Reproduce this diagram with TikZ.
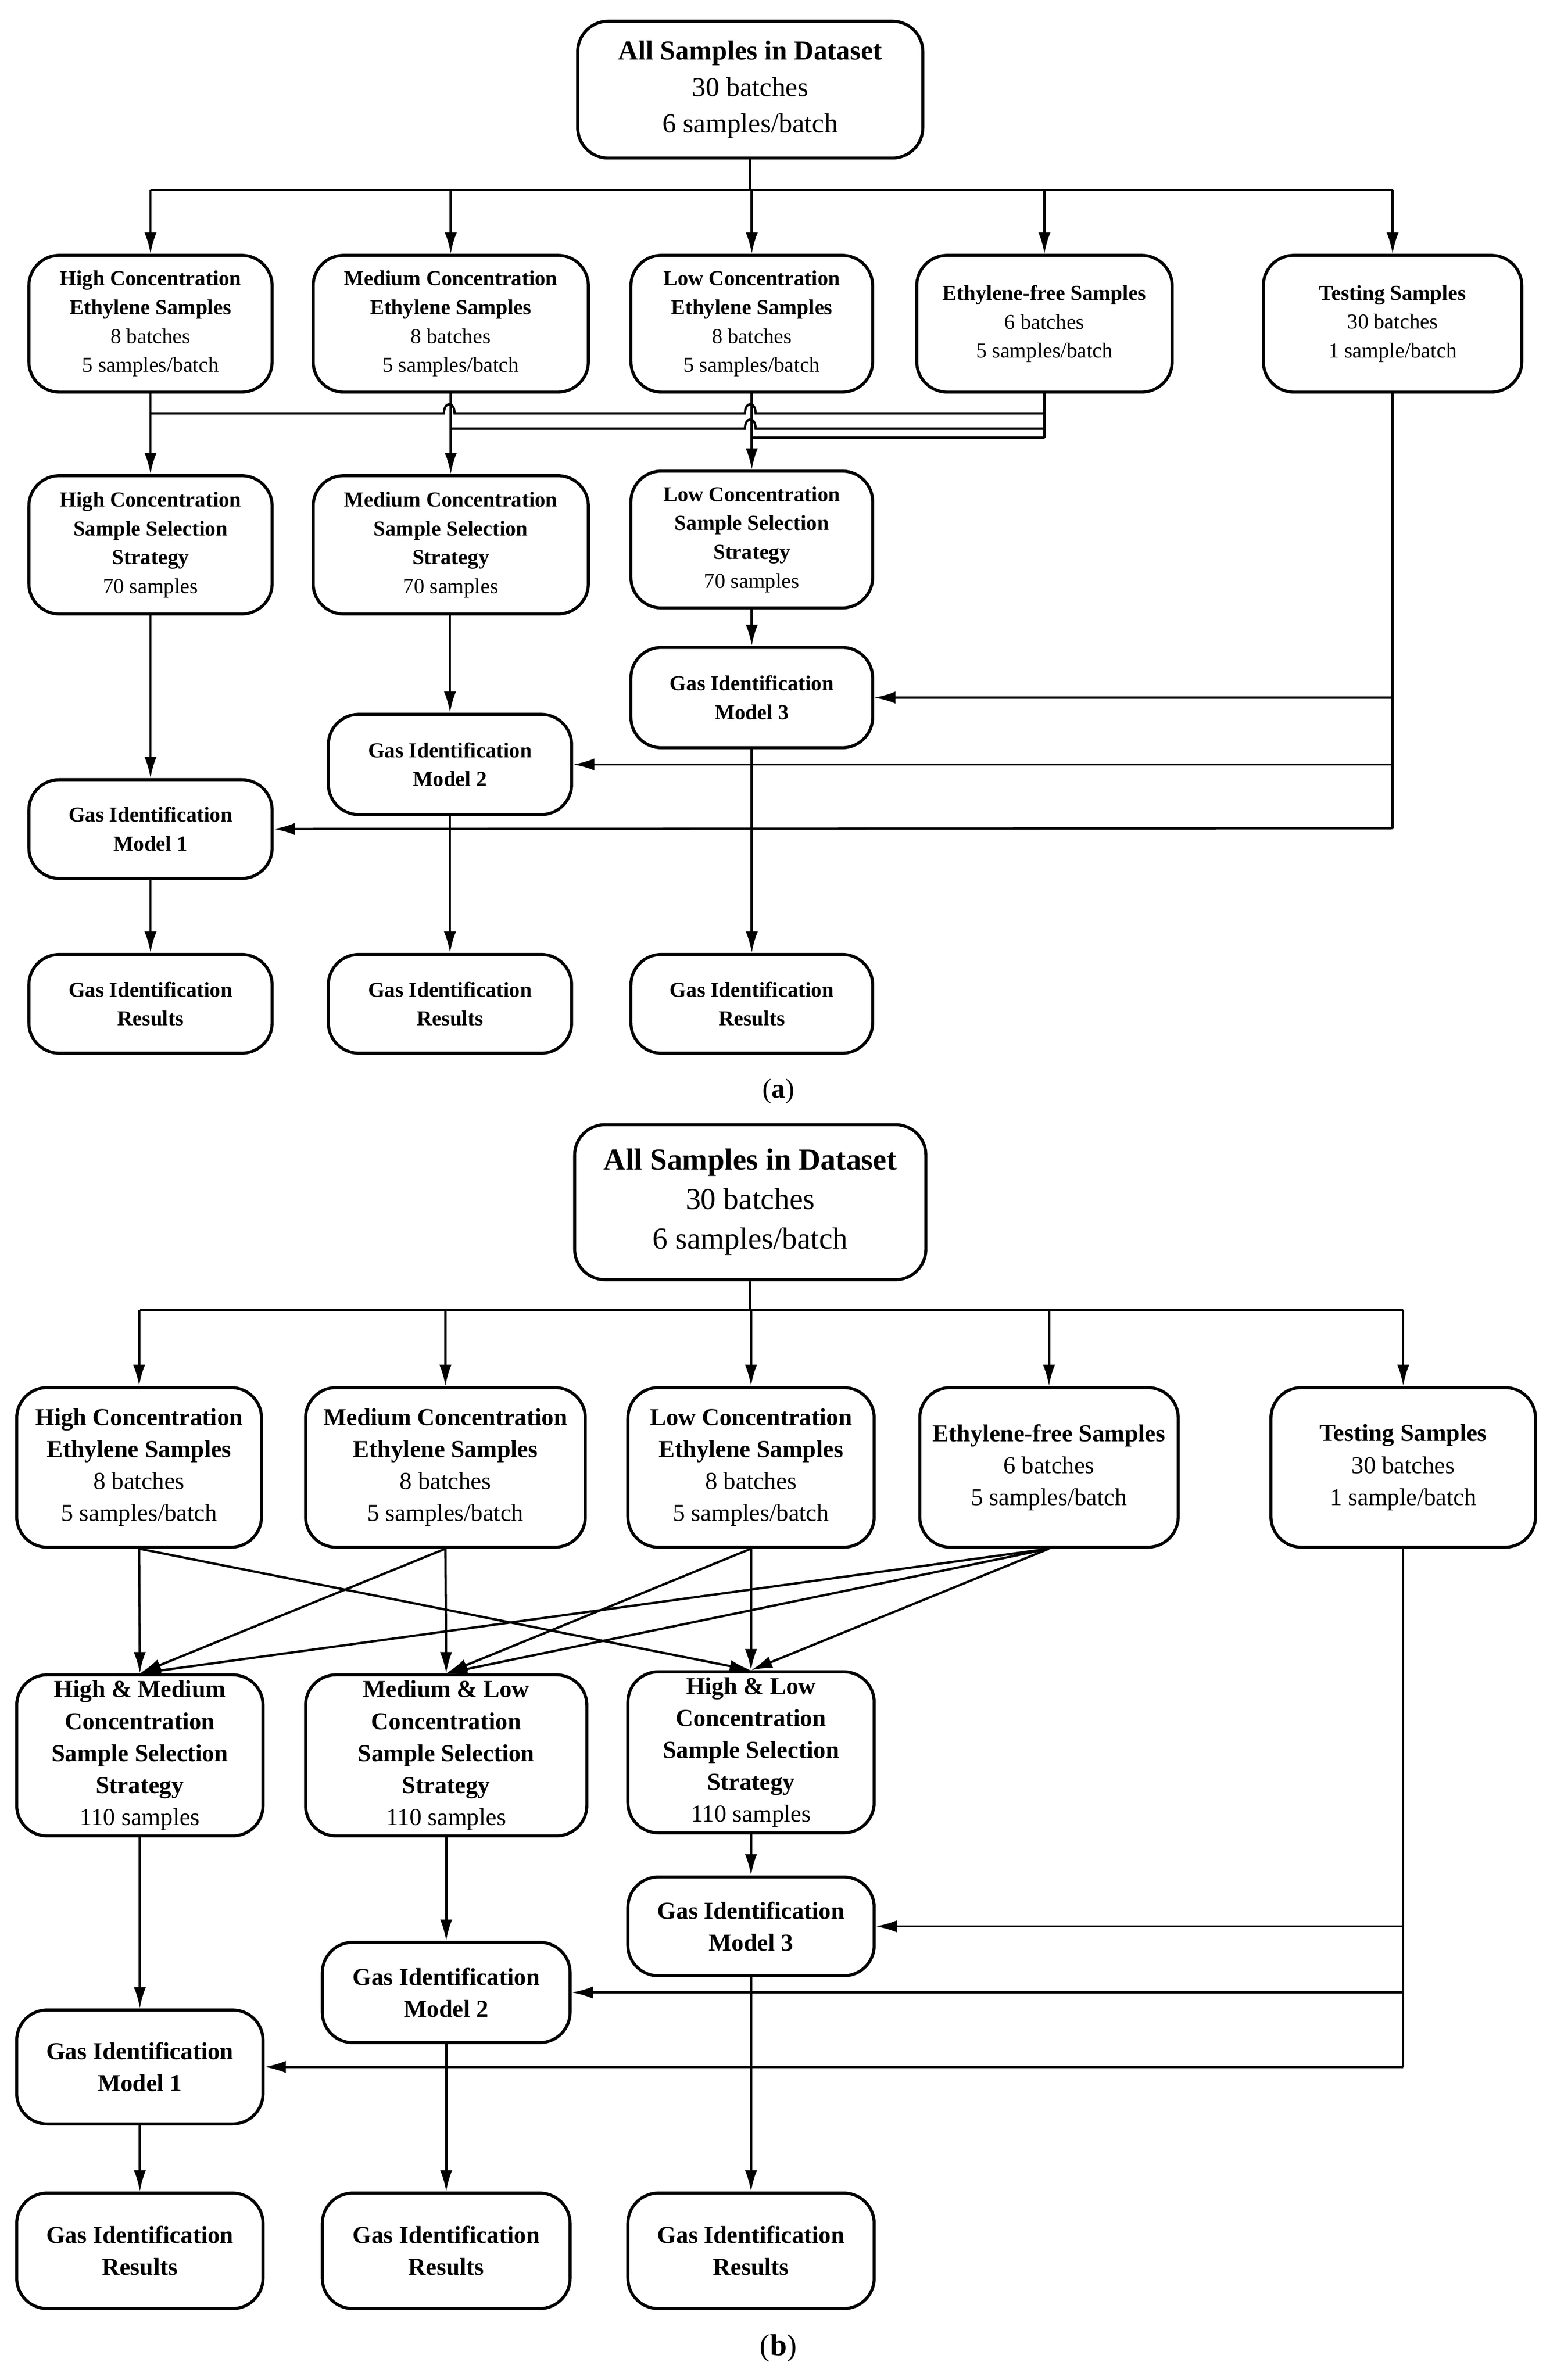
\documentclass[tikz,border=0pt]{standalone}
\usepackage{fontspec}
\setmainfont{Liberation Serif}
\usetikzlibrary{arrows.meta}
\begin{document}
\begin{tikzpicture}[x=0.5pt,y=-0.5pt,
 box/.style={draw,line width=1pt,rounded corners=10pt,align=center,inner sep=0pt},
 fa/.style={font=\fontsize{7}{9.5}\selectfont},
 fb/.style={font=\fontsize{8}{10.5}\selectfont},
 arr/.style={line width=0.75pt,-{Latex[length=7pt,width=4pt]}},
 ln/.style={line width=0.75pt}]
\useasboundingbox (0,0) rectangle (1024,1566);
% helper for box: node at center with size
\newcommand{\bx}[7]{\node[box,#7,minimum width=#4*0.5pt,minimum height=#5*0.5pt] (#1) at (#2,#3) {#6};}
% ---------------- (a)
\bx{aT}{493.5}{59}{227}{90}{\textbf{All Samples in Dataset}\\30 batches\\6 samples/batch}{font=\fontsize{9}{12}\selectfont}
\bx{aH}{99}{213}{160}{90}{\textbf{High Concentration}\\\textbf{Ethylene Samples}\\8 batches\\5 samples/batch}{fa}
\bx{aM}{296.5}{213}{181}{90}{\textbf{Medium Concentration}\\\textbf{Ethylene Samples}\\8 batches\\5 samples/batch}{fa}
\bx{aL}{494.5}{213}{159}{90}{\textbf{Low Concentration}\\\textbf{Ethylene Samples}\\8 batches\\5 samples/batch}{fa}
\bx{aE}{687}{213}{168}{90}{\textbf{Ethylene-free Samples}\\6 batches\\5 samples/batch}{fa}
\bx{aX}{916}{213}{170}{90}{\textbf{Testing Samples}\\30 batches\\1 sample/batch}{fa}
\bx{aSH}{99}{358.5}{160}{91}{\textbf{High Concentration}\\\textbf{Sample Selection}\\\textbf{Strategy}\\70 samples}{fa}
\bx{aSM}{296.5}{358.5}{181}{91}{\textbf{Medium Concentration}\\\textbf{Sample Selection}\\\textbf{Strategy}\\70 samples}{fa}
\bx{aSL}{494.5}{355}{159}{90}{\textbf{Low Concentration}\\\textbf{Sample Selection}\\\textbf{Strategy}\\70 samples}{fa}
\bx{aG3}{494.5}{459}{159}{66}{\textbf{Gas Identification}\\\textbf{Model 3}}{fa}
\bx{aG2}{296}{503}{160}{66}{\textbf{Gas Identification}\\\textbf{Model 2}}{fa}
\bx{aG1}{99}{545.5}{160}{65}{\textbf{Gas Identification}\\\textbf{Model 1}}{fa}
\bx{aR1}{99}{660.5}{160}{65}{\textbf{Gas Identification}\\\textbf{Results}}{fa}
\bx{aR2}{296}{660.5}{160}{65}{\textbf{Gas Identification}\\\textbf{Results}}{fa}
\bx{aR3}{494.5}{660.5}{159}{65}{\textbf{Gas Identification}\\\textbf{Results}}{fa}
\node[font=\fontsize{9}{11}\selectfont] (aLab) at (512,718) {(\textbf{a})};
\coordinate (ab) at (493.5,125);
\draw[ln] (aT.south) -- (ab);
\draw[ln] (99,125) -- (916,125);
\foreach \n in {aH,aM,aL,aE,aX}{\draw[arr] (ab -| \n.north) -- (\n.north);}
% crossings
\draw[arr] (aH.south) -- (aSH.north);
\draw[arr] (aM.south) -- (aSM.north);
\draw[arr] (aL.south) -- (aSL.north);
\draw[ln] (aE.south) -- (687,288);
\draw[ln] (99,272) -- (292,272) .. controls (292,264) and (299,264) .. (299,272) -- (490,272) .. controls (490,264) and (497,264) .. (497,272) -- (687,272);
\draw[ln] (296,282) -- (490,282) .. controls (490,274) and (497,274) .. (497,282) -- (687,282);
\draw[ln] (494,288) -- (687,288);
\draw[arr] (aSH.south) -- (aG1.north);
\draw[arr] (aSM.south -| aG2.north) -- (aG2.north);
\draw[arr] (aSL.south) -- (aG3.north);
\draw[arr] (aG1.south) -- (aR1.north);
\draw[arr] (aG2.south) -- (aR2.north);
\draw[arr] (aG3.south) -- (aR3.north);
\draw[ln] (aX.south) -- (916,545);
\draw[arr] (916,459) -- (aG3.east);
\draw[arr] (916,503) -- (aG2.east);
\draw[arr] (916,545) -- (aG1.east);
% ---------------- (b)
\bx{bT}{493.5}{791}{231}{102}{\textbf{All Samples in Dataset}\\30 batches\\6 samples/batch}{font=\fontsize{10}{13}\selectfont}
\bx{bH}{91.5}{965.5}{161}{105}{\textbf{High Concentration}\\\textbf{Ethylene Samples}\\8 batches\\5 samples/batch}{fb}
\bx{bM}{293}{965.5}{184}{105}{\textbf{Medium Concentration}\\\textbf{Ethylene Samples}\\8 batches\\5 samples/batch}{fb}
\bx{bL}{494}{965.5}{162}{105}{\textbf{Low Concentration}\\\textbf{Ethylene Samples}\\8 batches\\5 samples/batch}{fb}
\bx{bE}{690}{965.5}{170}{105}{\textbf{Ethylene-free Samples}\\6 batches\\5 samples/batch}{fb}
\bx{bX}{923}{965.5}{174}{105}{\textbf{Testing Samples}\\30 batches\\1 sample/batch}{fb}
\bx{bSH}{92}{1155}{162}{106}{\textbf{High \& Medium}\\\textbf{Concentration}\\\textbf{Sample Selection}\\\textbf{Strategy}\\110 samples}{fb}
\bx{bSM}{293.5}{1155}{185}{106}{\textbf{Medium \& Low}\\\textbf{Concentration}\\\textbf{Sample Selection}\\\textbf{Strategy}\\110 samples}{fb}
\bx{bSL}{494}{1153}{162}{106}{\textbf{High \& Low}\\\textbf{Concentration}\\\textbf{Sample Selection}\\\textbf{Strategy}\\110 samples}{fb}
\bx{bG3}{494}{1267.5}{162}{65}{\textbf{Gas Identification}\\\textbf{Model 3}}{fb}
\bx{bG2}{293.5}{1311}{163}{66}{\textbf{Gas Identification}\\\textbf{Model 2}}{fb}
\bx{bG1}{92}{1360}{162}{75}{\textbf{Gas Identification}\\\textbf{Model 1}}{fb}
\bx{bR1}{92}{1481}{162}{76}{\textbf{Gas Identification}\\\textbf{Results}}{fb}
\bx{bR2}{293.5}{1481}{163}{76}{\textbf{Gas Identification}\\\textbf{Results}}{fb}
\bx{bR3}{494}{1481}{162}{76}{\textbf{Gas Identification}\\\textbf{Results}}{fb}
\node[font=\fontsize{10}{12}\selectfont] (bLab) at (512,1545) {(\textbf{b})};
\coordinate (bb) at (493.5,862);
\draw[ln] (bT.south) -- (bb);
\draw[ln] (92,862) -- (923,862);
\foreach \n in {bH,bM,bL,bE,bX}{\draw[arr] (bb -| \n.north) -- (\n.north);}
\draw[arr] (bH.south) -- (bSH.north);
\draw[arr] (bH.south) -- (bSL.north);
\draw[arr] (bM.south) -- (bSH.north);
\draw[arr] (bM.south) -- (bSM.north);
\draw[arr] (bL.south) -- (bSM.north);
\draw[arr] (bL.south) -- (bSL.north);
\draw[arr] (bE.south) -- (bSH.north);
\draw[arr] (bE.south) -- (bSM.north);
\draw[arr] (bE.south) -- (bSL.north);
\draw[arr] (bSH.south) -- (bG1.north);
\draw[arr] (bSM.south) -- (bG2.north);
\draw[arr] (bSL.south) -- (bG3.north);
\draw[arr] (bG1.south) -- (bR1.north);
\draw[arr] (bG2.south) -- (bR2.north);
\draw[arr] (bG3.south) -- (bR3.north);
\draw[ln] (bX.south) -- (923,1360);
\draw[arr] (923,1267.5) -- (bG3.east);
\draw[arr] (923,1311) -- (bG2.east);
\draw[arr] (923,1360) -- (bG1.east);
\end{tikzpicture}
\end{document}
